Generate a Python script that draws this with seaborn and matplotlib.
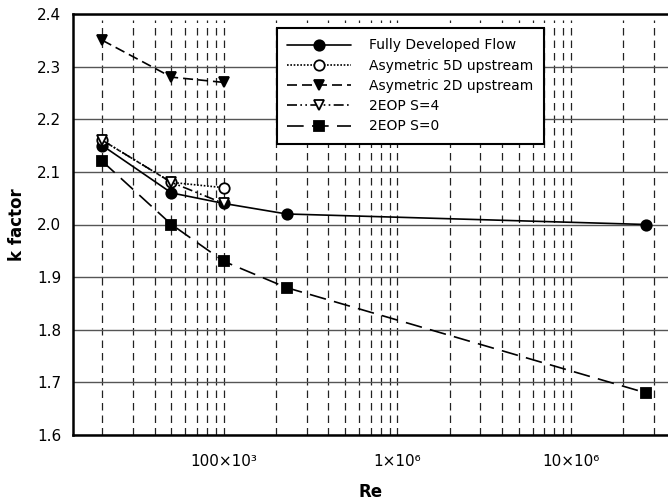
import matplotlib
matplotlib.use("Agg")
import matplotlib.pyplot as plt
import seaborn as sns
import numpy as np
from matplotlib.ticker import FixedLocator, FixedFormatter, NullFormatter, MultipleLocator

sns.set_style("white")
plt.rcParams['font.family'] = ['DejaVu Sans']
plt.rcParams['text.color'] = 'black'
plt.rcParams['axes.labelcolor'] = 'black'
plt.rcParams['xtick.color'] = 'black'
plt.rcParams['ytick.color'] = 'black'

re_fd = [20000, 50000, 100000, 230000, 27000000]
k_fd = [2.15, 2.06, 2.04, 2.02, 2.00]
re_5d = [20000, 50000, 100000]
k_5d = [2.16, 2.08, 2.07]
re_2d = [20000, 50000, 100000]
k_2d = [2.35, 2.28, 2.27]
re_s4 = [20000, 50000, 100000]
k_s4 = [2.16, 2.08, 2.04]
re_s0 = [20000, 50000, 100000, 230000, 27000000]
k_s0 = [2.12, 2.00, 1.93, 1.88, 1.68]
labels = ["Fully Developed Flow", "Asymetric 5D upstream", "Asymetric 2D upstream",
          "2EOP S=4", "2EOP S=0"]
major_ticks = [1e5, 1e6, 1e7]
major_labels = ["100×10³", "1×10⁶", "10×10⁶"]

fig = plt.figure(figsize=(6.68, 5.03), dpi=100)
ax = fig.add_axes([73/668, 1-435/503, 1-73/668, (435-14)/503])

styles = [
    dict(linestyle='-', marker='o', mfc='black'),
    dict(linestyle=(0, (1, 1)), marker='o', mfc='white'),
    dict(linestyle=(0, (6, 3)), marker='v', mfc='black'),
    dict(linestyle=(0, (6, 2, 1, 2, 1, 2)), marker='v', mfc='white'),
    dict(linestyle=(0, (10, 5)), marker='s', mfc='black'),
]
series = [(re_fd, k_fd), (re_5d, k_5d), (re_2d, k_2d), (re_s4, k_s4), (re_s0, k_s0)]
for (xs, ys), lab, st in zip(series, labels, styles):
    sns.lineplot(x=xs, y=ys, ax=ax, color='black', label=lab, linewidth=1.2,
                 markersize=7.5, mec='black', mew=1.3, **st)

ax.set_xscale('log')
ax.set_xlim(13550, 3.61e7)
ax.set_ylim(1.6, 2.4)

minor = []
for d in [1e4, 1e5, 1e6, 1e7]:
    for m in range(2, 10):
        v = m * d
        if 13550 < v < 3.61e7:
            minor.append(v)
ax.xaxis.set_major_locator(FixedLocator(major_ticks))
ax.xaxis.set_major_formatter(FixedFormatter(major_labels))
ax.xaxis.set_minor_locator(FixedLocator(minor))
ax.xaxis.set_minor_formatter(NullFormatter())
ax.yaxis.set_major_locator(MultipleLocator(0.1))
ax.yaxis.set_minor_locator(MultipleLocator(0.02))

for v in major_ticks + minor:
    ax.axvline(v, color='#222222', linestyle=(0, (6, 4)), linewidth=0.9, zorder=0, ymax=0.985)
ax.yaxis.grid(True, which='major', color='#555555', linewidth=1.0, zorder=0)

ax.tick_params(axis='x', which='major', direction='out', length=5, width=1.3,
               labelsize=11, pad=9)
ax.tick_params(axis='x', which='minor', direction='inout', length=6, width=1.0)
ax.tick_params(axis='y', which='major', direction='out', length=5, width=1.3, labelsize=11)
ax.tick_params(axis='y', which='minor', direction='in', length=3, width=1.0)
for s in ['left', 'bottom', 'top']:
    ax.spines[s].set_color('black')
    ax.spines[s].set_linewidth(1.8)
ax.spines['right'].set_visible(False)

ax.set_xlabel("Re", fontsize=12, fontweight='bold', labelpad=10)
ax.set_ylabel("k factor", fontsize=12, fontweight='bold', labelpad=8)

leg = ax.legend(loc='upper left', bbox_to_anchor=((277-73)/595, 1-(28-14)/421),
                frameon=True, fancybox=False, edgecolor='black', fontsize=10,
                handlelength=4.6, borderpad=0.75, labelspacing=0.45, handletextpad=1.3,
                borderaxespad=0)
leg.get_frame().set_linewidth(1.5)
leg.get_frame().set_alpha(1)

fig.savefig("out.png", dpi=100)
